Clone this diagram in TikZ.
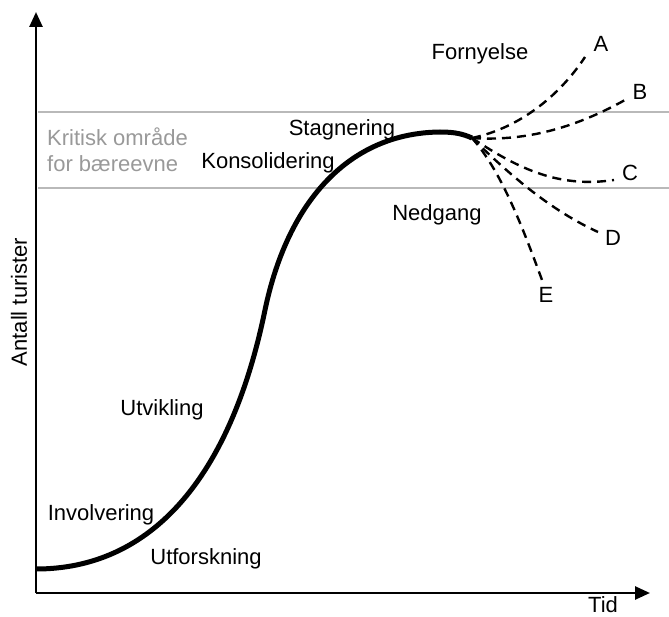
\documentclass[tikz,border=0pt]{standalone}
\usepackage{fontspec}
\setmainfont{Liberation Sans}
\usetikzlibrary{arrows.meta, positioning}
\tikzstyle{phase} = [font=\fontsize{22}{26}\selectfont, inner sep=0pt]
\tikzstyle{zone} = [phase, text=gray!80, align=left, anchor=west]
\tikzstyle{axis} = [line width=2.6pt, -{Triangle[length=15pt, width=13pt]}]
\tikzstyle{limit} = [line width=2.4pt, draw=gray!55]
\tikzstyle{trend} = [line width=2.4pt, dash pattern=on 9pt off 6pt]

\begin{document}
\begin{tikzpicture}[x=1pt, y=-1pt]
\useasboundingbox (0,0) rectangle (669,617);

% axes
\coordinate (origin) at (36,593);
\coordinate (ytop) at (36,12);
\coordinate (xend) at (650,593);
\draw [axis] (origin) -- (ytop);
\draw [axis] (origin) -- (xend);
\node (tid) [phase] at (603,605) {Tid};
\node (antall) [phase, rotate=90] at (19,302) {Antall turister};

% carrying capacity band
\coordinate (upper-l) at (38,112);
\coordinate (upper-r) at (669,112);
\coordinate (lower-l) at (38,188);
\coordinate (lower-r) at (669,188);
\draw [limit] (upper-l) -- (upper-r);
\draw [limit] (lower-l) -- (lower-r);
\node (kritisk) [zone] at (47,150) {Kritisk område\\for bæreevne};

% life cycle curve
\coordinate (start) at (36,569);
\coordinate (growth) at (265,310);
\coordinate (top) at (440,132);
\coordinate (peak) at (472,138);
\draw [line width=5pt] (start) .. controls (150,569) and (230,480) .. (growth)
  .. controls (288,200) and (350,133) .. (top)
  .. controls (455,132) and (463,134) .. (peak);

% scenarios after stagnation
\coordinate (a-end) at (585,57);
\coordinate (b-end) at (625,100);
\coordinate (c-end) at (614,180);
\coordinate (d-end) at (598,232);
\coordinate (e-end) at (542,280);
\draw [trend] (peak) .. controls (520,128) and (560,95) .. (a-end);
\draw [trend] (peak) .. controls (530,142) and (580,125) .. (b-end);
\draw [trend] (peak) .. controls (520,170) and (560,188) .. (c-end);
\draw [trend] (peak) .. controls (510,175) and (550,210) .. (d-end);
\draw [trend] (peak) .. controls (500,170) and (520,220) .. (e-end);
\node (a) [phase] at (601,44) {A};
\node (b) [phase] at (640,92) {B};
\node (c) [phase] at (630,173) {C};
\node (d) [phase] at (613,238) {D};
\node (e) [phase] at (546,295) {E};

% stages
\node (fornyelse) [phase] at (480,54) {Fornyelse};
\node (stagnering) [phase] at (342,130) {Stagnering};
\node (konsolidering) [phase] at (268,163) {Konsolidering};
\node (nedgang) [phase] at (437,215) {Nedgang};
\node (utvikling) [phase] at (162,410) {Utvikling};
\node (involvering) [phase] at (101,515) {Involvering};
\node (utforskning) [phase] at (206,559) {Utforskning};
\end{tikzpicture}
\end{document}
